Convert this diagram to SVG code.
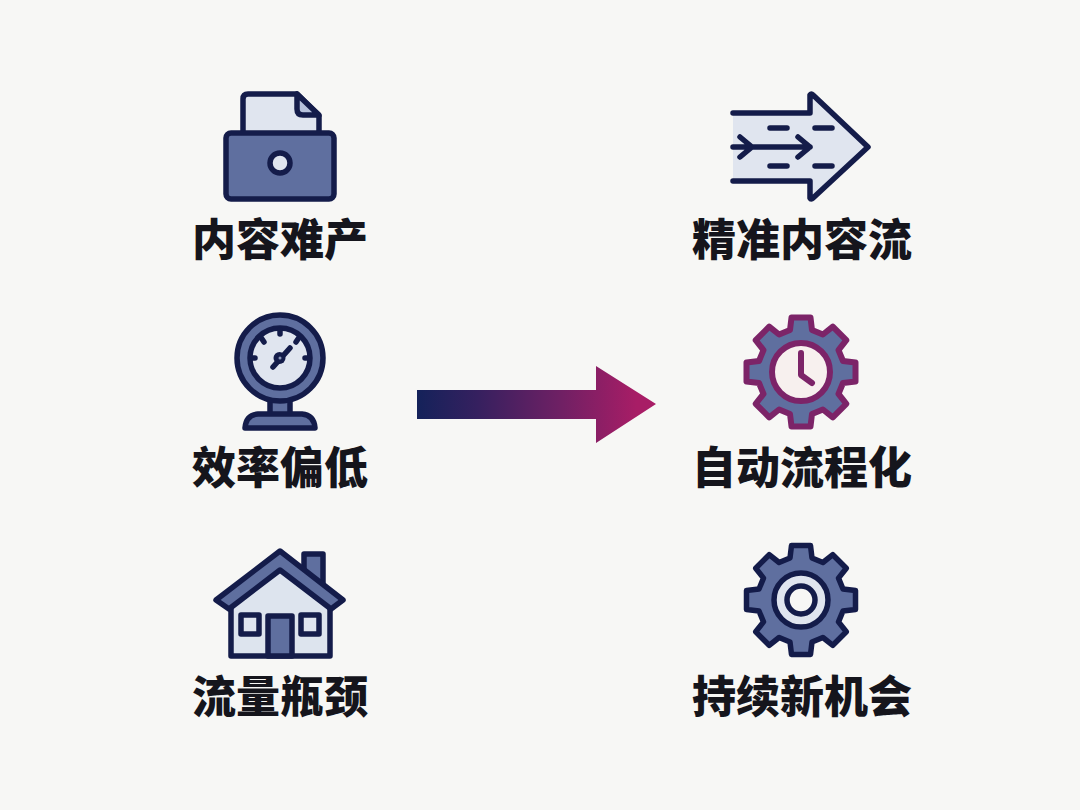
<svg xmlns="http://www.w3.org/2000/svg" width="1080" height="810" viewBox="0 0 1080 810">
<style>
.bg{fill:#f7f7f5}
.s{stroke:#141c4a;stroke-width:5.500;stroke-linejoin:round;stroke-linecap:round}
.mid{fill:#5f6f9f}
.lt{fill:#e0e5ef}
.no{fill:none}
.mg{stroke:#7c2468;stroke-width:6;stroke-linejoin:round;stroke-linecap:round}
.t{font-family:"Noto Sans CJK SC","Noto Sans",sans-serif;font-weight:900;font-size:44px;fill:#15151c;text-anchor:middle}
</style>
<defs>
<linearGradient id="grad" gradientUnits="userSpaceOnUse" x1="417" y1="0" x2="656" y2="0">
<stop offset="0" stop-color="#14225a"/><stop offset="0.25" stop-color="#35205f"/><stop offset="0.6" stop-color="#6f2064"/><stop offset="0.92" stop-color="#a81d66"/><stop offset="1" stop-color="#a81d66"/>
</linearGradient>
<path id="gear" d="M-11-42L-9.500-54.500H9.500L11-42L21.900-37.500L31.800-45.300L45.300-31.800L37.500-21.900L42-11L54.500-9.500V9.500L42 11L37.500 21.900L45.300 31.800L31.800 45.300L21.900 37.500L11 42L9.500 54.500H-9.500L-11 42L-21.900 37.500L-31.800 45.300L-45.300 31.800L-37.500 21.900L-42 11L-54.500 9.500V-9.500L-42-11L-37.500-21.900L-45.300-31.800L-31.800-45.300L-21.900-37.500Z"/>
</defs>
<rect class="bg" width="1080" height="810"/>
<g id="node-content">
<path class="s lt" d="M243 150V99Q243 94 248 94H297L319 116V150Z"/>
<path class="s" fill="#b7c2dc" d="M297 94V109Q297 115 303 115H319Z"/>
<rect class="s mid" x="226" y="133" width="108" height="66" rx="5"/>
<circle class="s lt" cx="280" cy="163" r="10"/>
<text class="t" x="280" y="256">内容难产</text>
</g>
<g id="node-efficiency">
<rect class="s mid" x="270" y="398" width="20" height="18"/>
<path class="s mid" d="M245 428Q246 415 258 414H302Q314 415 315 428Z"/>
<circle class="s mid" cx="280" cy="358" r="43"/>
<circle class="s lt" cx="280" cy="358" r="30"/>
<path class="s no" d="M280 330V334M262 339L264 342M298 339L296 342M252 358H255M305 358H308"/>
<path class="s no" stroke-width="4" d="M273 367L290 348"/>
<circle cx="279.500" cy="358" r="6" fill="#141c4a"/>
<circle cx="280" cy="358" r="1.500" fill="#8b97b8"/>
<text class="t" x="280" y="484">效率偏低</text>
</g>
<g id="node-traffic">
<rect class="s mid" x="304" y="554" width="19" height="32"/>
<path class="s" fill="#dde4ee" d="M231 600L280 565L330 600V656H231Z"/>
<path class="s mid" d="M280 551L343 600L331 609L280 570L229 609L216 600Z"/>
<rect class="s lt" x="241" y="615" width="18" height="19"/>
<rect class="s lt" x="301" y="615" width="18" height="19"/>
<rect class="s mid" x="268" y="616" width="24" height="40"/>
<text class="t" x="280" y="713">流量瓶颈</text>
</g>
<g id="connectors">
<path fill="url(#grad)" d="M417 390H596V366L656 404L596 443V419H417Z"/>
</g>
<g id="node-stream">
<path class="lt" d="M733 113H810V95L868 147L810 197V181H733Z"/>
<path class="s no" d="M733 113H810V95Q811 93 813 95L868 147L813 198Q811 200 810 198V181H733"/>
<path class="s no" d="M733 147H810M740 137L752 147L740 157M798 137L810 147L798 157M770 128H787M815 128H832M770 166H787M815 166H832"/>
<text class="t" x="802" y="256">精准内容流</text>
</g>
<g id="node-auto">
<use href="#gear" x="801" y="372" class="mid mg"/>
<circle class="mg" fill="#f7f0ee" cx="801" cy="372" r="29"/>
<path class="mg no" d="M801 353V375L812 383"/>
<text class="t" x="802" y="484">自动流程化</text>
</g>
<g id="node-opportunity">
<use href="#gear" x="801" y="600" class="s mid"/>
<circle class="s lt" cx="801" cy="600" r="27"/>
<circle class="s" fill="#f7f7f5" cx="801" cy="600" r="14"/>
<text class="t" x="802" y="713">持续新机会</text>
</g>
</svg>
